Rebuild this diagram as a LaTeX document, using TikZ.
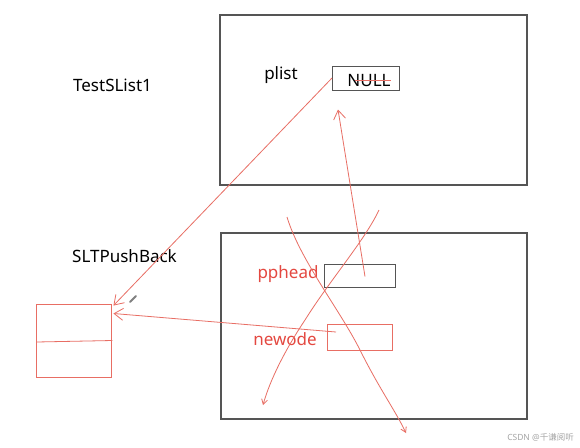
\documentclass[tikz,border=0pt]{standalone}
\usepackage{fontspec}
\setmainfont{Noto Sans}
\newfontfamily\cjk{Noto Sans CJK SC}
\usetikzlibrary{arrows.meta}
\definecolor{pen}{RGB}{232,110,100}
\definecolor{redtxt}{RGB}{228,72,64}
\definecolor{frame}{RGB}{85,85,85}
\tikzset{
  frm/.style={draw=frame,line width=1.2pt},
  cell/.style={draw=frame,line width=1pt},
  redcell/.style={draw=pen,line width=0.9pt},
  lbl/.style={font=\fontsize{17}{19}\selectfont,inner sep=0pt},
  redlbl/.style={lbl,text=redtxt},
  penline/.style={draw=pen,line width=0.8pt},
  barb/.style={-{Straight Barb[length=9pt,width=12pt,line width=0.8pt]}}
}
\begin{document}
\begin{tikzpicture}[x=1pt,y=-1pt]
\fill[white] (0,0) rectangle (580,447);
\useasboundingbox (0,0) rectangle (580,447);
% frames
\node[frm,minimum width=307pt,minimum height=170pt,inner sep=0pt] (top) at (373.5,100) {};
\node[frm,minimum width=306pt,minimum height=186pt,inner sep=0pt] (bot) at (374,326) {};
% labels
\node[lbl] (t1) at (112.5,85) {TestSList1};
\node[lbl] (t2) at (124.5,256) {SLTPushBack};
\node[lbl] (pl) at (281,75) {plist};
% NULL cell
\node[cell,minimum width=67pt,minimum height=24pt,inner sep=0pt] (nul) at (366,78) {};
\node[lbl] (nt) at (369,81) {NULL};
\draw[pen,line width=0.8pt] (355,80) -- (391,80);
% pphead cell
\node[cell,minimum width=71pt,minimum height=23pt,inner sep=0pt] (pp) at (360,275.5) {};
\node[redlbl] (ppl) at (288,274) {pphead};
% newode cell
\node[redcell,minimum width=65pt,minimum height=26pt,inner sep=0pt] (nw) at (359.5,337) {};
\node[redlbl] (nwl) at (285,339) {newode};
% left node box
\node[redcell,minimum width=75pt,minimum height=73pt,inner sep=0pt] (lb) at (73.5,340.5) {};
\draw[penline] (lb.west)++(1,1.5) -- ([xshift=1pt]lb.east);
% connectors
\coordinate (a1) at ([shift={(2,2)}]lb.north east);
\coordinate (a2) at ([shift={(2,-27)}]lb.east);
\draw[penline,barb] (nul.west) -- (a1);
\draw[penline,barb] (336,332) -- (a2);
\draw[penline,barb] ([shift={(5,1)}]pp.center) -- ([shift={(-28,19)}]nul.south);
% scribbles
\draw[penline,-{Straight Barb[length=5pt,width=6pt,line width=0.8pt]}] (287,217) .. controls (300,260) and (340,310) .. (360,350) .. controls (380,390) and (395,410) .. (406,433);
\draw[penline,-{Straight Barb[length=5pt,width=6pt,line width=0.8pt]}] (379,210) .. controls (365,240) and (330,280) .. (305,320) .. controls (285,350) and (270,380) .. (263,405);
% pencil mark
\draw[gray,line width=2pt,line cap=round] (130,302) -- (136,296);
% watermark
\node[font=\fontsize{8.5}{10}\selectfont,text=gray!70,inner sep=0pt,anchor=east] (wm) at (574,437) {CSDN @{\cjk 千谦阅听}};
\end{tikzpicture}
\end{document}
